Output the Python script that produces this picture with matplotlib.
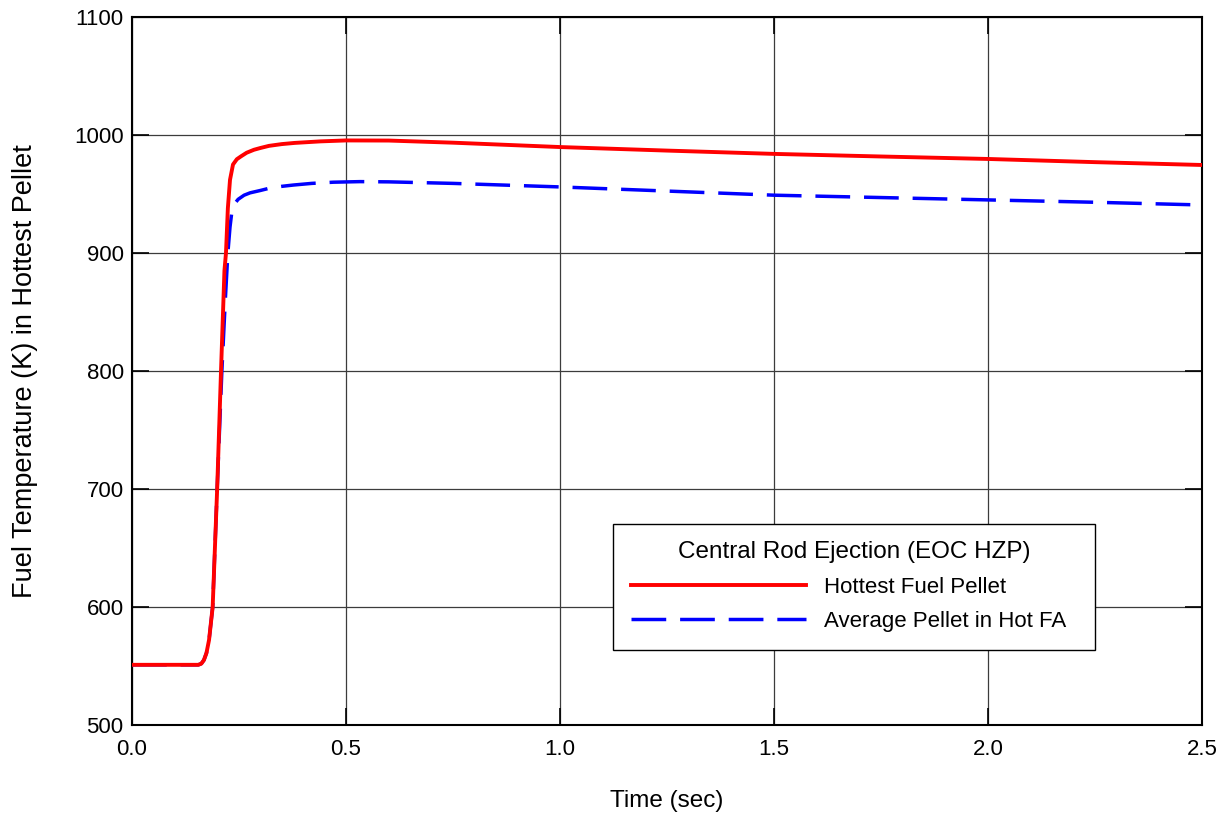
import matplotlib
matplotlib.use("Agg")
import matplotlib.pyplot as plt

# Hottest fuel pellet
t_hot = [0.0, 0.10, 0.155, 0.162, 0.168, 0.174, 0.180, 0.1885, 0.199, 0.208, 0.216,
         0.2196, 0.224, 0.229, 0.236, 0.245, 0.255, 0.268, 0.285, 0.30, 0.32, 0.35,
         0.38, 0.44, 0.5, 0.6, 0.75, 1.0, 1.25, 1.5, 1.75, 2.0, 2.25, 2.5]
T_hot = [551, 551, 551, 552, 555, 561, 572, 600, 700, 800, 885,
         900, 938, 962, 975, 979.5, 982, 985, 987.5, 989, 990.8, 992.3,
         993.3, 994.6, 995.4, 995.3, 993.5, 989.8, 986.8, 984, 981.8, 979.7, 977, 974.6]

# Average pellet in hot FA
t_avg = [0.0, 0.10, 0.155, 0.162, 0.168, 0.174, 0.180, 0.1885, 0.199, 0.210, 0.218,
         0.224, 0.229, 0.233, 0.238, 0.248, 0.262, 0.276, 0.30, 0.322, 0.35, 0.377,
         0.42, 0.47, 0.533, 0.6, 0.75, 1.0, 1.25, 1.5, 1.75, 2.0, 2.25, 2.5]
T_avg = [551, 551, 551, 552, 555, 561, 572, 600, 700, 800, 860,
         900, 922, 934, 941, 945.5, 949, 951, 953, 955, 956.5, 957.6,
         959, 960, 960.5, 960.3, 959, 956, 952.5, 949, 947, 945, 943, 940.7]

x_ticks = [0.0, 0.5, 1.0, 1.5, 2.0, 2.5]
y_ticks = [500, 600, 700, 800, 900, 1000, 1100]

plt.rcParams['font.family'] = ['Liberation Sans', 'DejaVu Sans']

fig = plt.figure(figsize=(12.29, 8.18), dpi=100)
ax = fig.add_axes([0.1074, 0.1137, 0.8706, 0.8655])

ax.plot(t_hot, T_hot, color='#ff0000', lw=2.8, label='Hottest Fuel Pellet', zorder=4)
ax.plot(t_avg, T_avg, color='#0000ff', lw=2.5, dashes=(10, 4),
        label='Average Pellet in Hot FA', zorder=3)

ax.set_xlim(0, 2.5)
ax.set_ylim(500, 1100)
ax.set_xticks(x_ticks)
ax.set_yticks(y_ticks)
ax.set_xticklabels([f"{v:.1f}" for v in x_ticks])
ax.tick_params(direction='in', length=12, width=1.2, top=True, right=True,
               labelsize=16, pad=6, colors='black')
ax.tick_params(axis='x', pad=10)
ax.grid(True, color='#3c3c3c', lw=0.9)
for s in ax.spines.values():
    s.set_linewidth(1.5)

ax.set_xlabel('Time (sec)', fontsize=17.5, labelpad=22)
ax.set_ylabel('Fuel Temperature (K) in Hottest Pellet', fontsize=19.5, labelpad=26)

leg = ax.legend(loc='upper left', bbox_to_anchor=(0.4495, 0.0, 0.4505, 0.2845),
                mode='expand', title='Central Rod Ejection (EOC HZP)',
                title_fontsize=17.5, fontsize=16, handlelength=7.9,
                handletextpad=0.8, borderpad=0.8, labelspacing=0.6,
                borderaxespad=0, fancybox=False, framealpha=1, edgecolor='black')
leg.get_frame().set_linewidth(1.0)

fig.savefig('out.png', dpi=100)
